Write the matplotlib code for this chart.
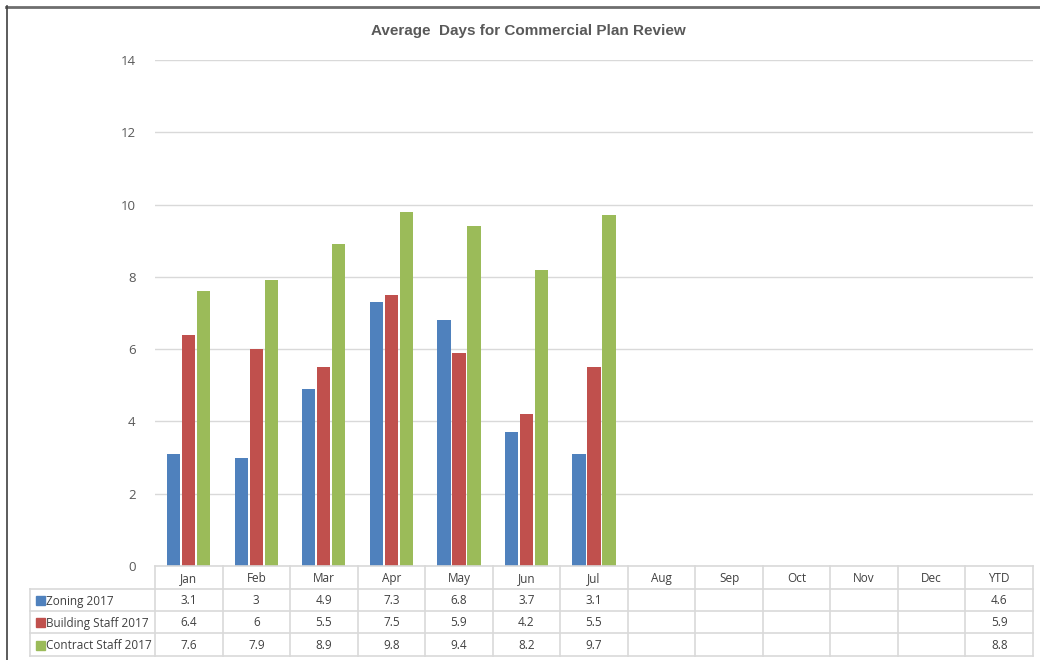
import matplotlib
matplotlib.use("Agg")
import matplotlib.pyplot as plt
from matplotlib.patches import Rectangle
from matplotlib.lines import Line2D

# Monthly averages (days) per review group; YTD figures are shown in the table only
categories = ["Jan", "Feb", "Mar", "Apr", "May", "Jun", "Jul",
              "Aug", "Sep", "Oct", "Nov", "Dec", "YTD"]
series_names = ["Zoning 2017", "Building Staff 2017", "Contract Staff 2017"]
zoning = [3.1, 3, 4.9, 7.3, 6.8, 3.7, 3.1]
building = [6.4, 6, 5.5, 7.5, 5.9, 4.2, 5.5]
contract = [7.6, 7.9, 8.9, 9.8, 9.4, 8.2, 9.7]
ytd = ["4.6", "5.9", "8.8"]
colors = ["#4f81bd", "#c0504d", "#9bbb59"]

W, H = 1040, 660
fig = plt.figure(figsize=(W / 100, H / 100), dpi=100)
fig.patch.set_facecolor("white")

# pixel layout of the plot area
L, R, T, B = 155, 1033, 60, 566
ax = fig.add_axes([L / W, 1 - B / H, (R - L) / W, (B - T) / H])

series = [zoning, building, contract]
width = 0.195
step = 0.222
for k, (vals, col) in enumerate(zip(series, colors)):
    xs = [i + (k - 1) * step for i in range(len(vals))]
    ax.bar(xs, vals, width=width, color=col, zorder=3)

ax.set_xlim(-0.5, len(categories) - 0.5)
ax.set_ylim(0, 14)
ax.set_yticks(range(0, 15, 2))
ax.set_xticks([])
ax.grid(axis="y", color="#d9d9d9", linewidth=1.0, zorder=0)
for s in ax.spines.values():
    s.set_visible(False)
ax.tick_params(axis="y", length=0, pad=14, labelsize=9.5, labelcolor="#595959")
for lab in ax.get_yticklabels():
    lab.set_fontfamily("Open Sans")

fig.text(528 / W, 1 - 31 / H, "Average  Days for Commercial Plan Review",
         ha="center", va="center", fontsize=11, fontweight="bold",
         color="#595959", family=["Liberation Sans", "DejaVu Sans"])

# overlay in pixel coordinates for the data table and frame
ov = fig.add_axes([0, 0, 1, 1], facecolor="none")
ov.set_xlim(0, W)
ov.set_ylim(H, 0)
ov.axis("off")

grid_c = "#d9d9d9"
text_c = "#404040"
tfont = "Open Sans"
cw = (R - L) / len(categories)
rows_y = [566, 589, 611, 633, 656]
left_col = 30

# horizontal rules
ov.add_line(Line2D([L, R], [rows_y[0], rows_y[0]], color=grid_c, lw=1.2))
for y in rows_y[1:]:
    ov.add_line(Line2D([left_col, R], [y, y], color=grid_c, lw=1.2))
# vertical rules
for i in range(len(categories) + 1):
    x = L + i * cw
    ov.add_line(Line2D([x, x], [rows_y[0], rows_y[-1]], color=grid_c, lw=1.2))
ov.add_line(Line2D([left_col, left_col], [rows_y[1], rows_y[-1]], color=grid_c, lw=1.2))

# header row
for i, c in enumerate(categories):
    ov.text(L + (i + 0.5) * cw, (rows_y[0] + rows_y[1]) / 2 + 1, c,
            ha="center", va="center", fontsize=8.5, color=text_c, family=tfont)

# series rows
for r, (name, vals, col) in enumerate(zip(series_names, series, colors)):
    yc = (rows_y[r + 1] + rows_y[r + 2]) / 2 + 1
    ov.add_patch(Rectangle((36, yc - 5), 9, 9, color=col))
    ov.text(46, yc, name, ha="left", va="center", fontsize=8.5,
            color=text_c, family=tfont)
    for i, v in enumerate(vals):
        ov.text(L + (i + 0.5) * cw, yc, f"{v:g}", ha="center", va="center",
                fontsize=8.5, color=text_c, family=tfont)
    ov.text(L + (len(categories) - 0.5) * cw, yc, ytd[r], ha="center",
            va="center", fontsize=8.5, color=text_c, family=tfont)

# outer frame lines (top and left)
ov.add_line(Line2D([6, W], [7, 7], color="#6e6e6e", lw=2.0))
ov.add_line(Line2D([6.5, 6.5], [6, H], color="#404040", lw=1.2))

fig.savefig("out.png", dpi=100, facecolor="white")
